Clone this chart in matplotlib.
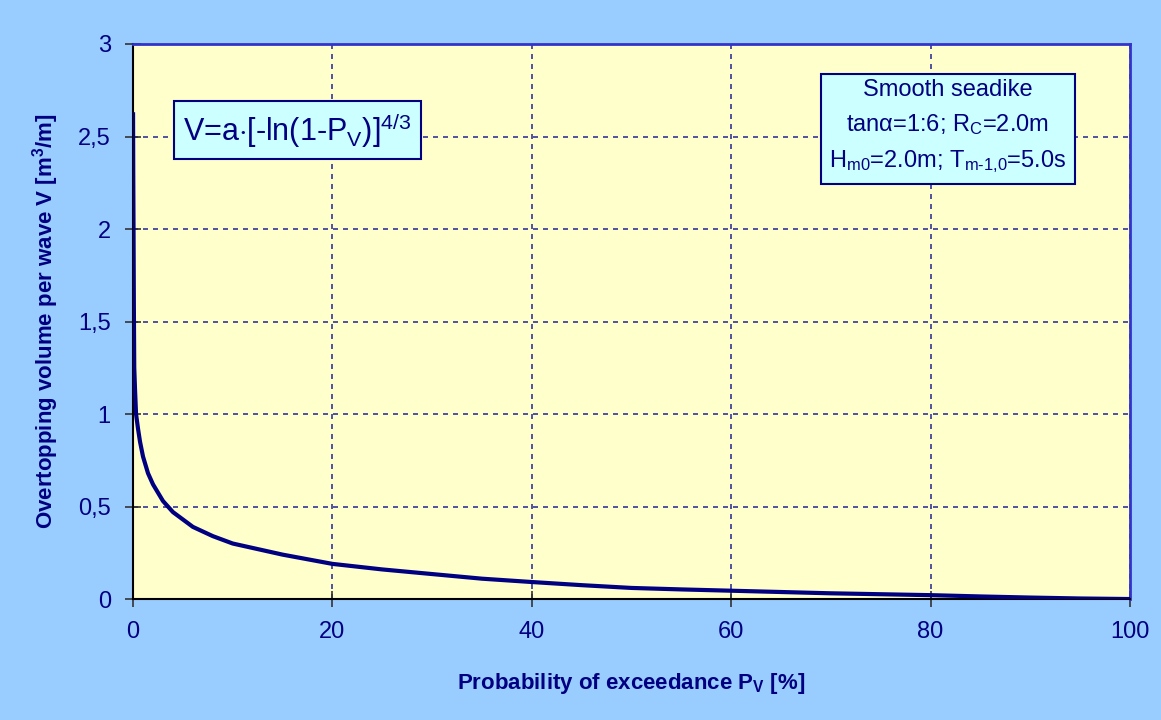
import matplotlib
matplotlib.use("Agg")
import matplotlib.pyplot as plt

plt.rcParams["font.family"] = ["Liberation Sans", "DejaVu Sans"]
plt.rcParams["mathtext.fontset"] = "custom"
plt.rcParams["mathtext.rm"] = "Liberation Sans"
plt.rcParams["mathtext.it"] = "Liberation Sans:italic"
plt.rcParams["mathtext.bf"] = "Liberation Sans:bold"

NAVY = "#000080"

# exceedance probability [%] and overtopping volume [m3/m]
p_exceed = [0.0, 0.02, 0.05, 0.08, 0.12, 0.2, 0.3, 0.5, 0.7, 1.0, 1.5, 2.0, 3.0, 4.0,
            5.0, 6.0, 8.0, 10.0, 12.5, 15.0, 17.5, 20.0, 25.0, 30.0, 35.0, 40.0, 45.0,
            50.0, 55.0, 60.0, 65.0, 70.0, 75.0, 80.0, 85.0, 90.0, 95.0, 100.0]
volume = [2.62, 2.30, 1.97, 1.60, 1.25, 1.13, 1.00, 0.92, 0.85, 0.77, 0.68, 0.62, 0.53, 0.47,
          0.43, 0.39, 0.34, 0.30, 0.27, 0.24, 0.215, 0.19, 0.16, 0.135, 0.11, 0.092, 0.075,
          0.06, 0.052, 0.045, 0.038, 0.031, 0.026, 0.021, 0.014, 0.008, 0.003, 0.0]

x_ticks = [0, 20, 40, 60, 80, 100]
y_ticks = [0, 0.5, 1, 1.5, 2, 2.5, 3]
y_tick_labels = ["0", "0,5", "1", "1,5", "2", "2,5", "3"]

fig = plt.figure(figsize=(11.61, 7.2), dpi=100, facecolor="#99CCFF")
ax = fig.add_axes([0.1146, 0.168, 0.8587, 0.7709])
ax.set_facecolor("#FFFFCC")

ax.plot(p_exceed, volume, color=NAVY, lw=3, solid_joinstyle="round", zorder=3)

ax.set_xlim(0, 100)
ax.set_ylim(0, 3)
ax.set_xticks(x_ticks)
ax.set_yticks(y_ticks)
ax.set_yticklabels(y_tick_labels)
ax.tick_params(axis="both", direction="inout", length=12, width=1.2, color="#333333",
               labelsize=17, labelcolor=NAVY, pad=10)
ax.grid(True, color="#333399", ls=(0, (3, 3)), lw=1.2)
ax.set_axisbelow(True)

for side in ["left", "bottom"]:
    ax.spines[side].set_color("black")
    ax.spines[side].set_linewidth(1.5)
for side in ["top", "right"]:
    ax.spines[side].set_color("#3333CC")
    ax.spines[side].set_linewidth(2)

ax.set_xlabel(r"Probability of exceedance P$_\mathbf{V}$ [%]", fontsize=16,
              fontweight="bold", color=NAVY, labelpad=20)
ax.set_ylabel(r"Overtopping volume per wave V [m$^\mathbf{3}$/m]", fontsize=16,
              fontweight="bold", color=NAVY, labelpad=12)

box = dict(boxstyle="square,pad=0.3", facecolor="#CCFFFF", edgecolor="#000080", lw=1.5)
ax.text(0.0505, 0.845, r"V=a$\cdot$[-ln(1-P$_\mathrm{V}$)]$^\mathrm{4/3}$", transform=ax.transAxes,
        fontsize=22, color=NAVY, va="center", ha="left", bbox=box)
ax.text(0.817, 0.850,
        "Smooth seadike\n" + r"tan$\mathrm{\alpha}$=1:6; R$_\mathrm{C}$=2.0m" + "\n" +
        r"H$_\mathrm{m0}$=2.0m; T$_\mathrm{m\text{-}1{,}0}$=5.0s",
        transform=ax.transAxes, fontsize=17, color=NAVY, va="center", ha="center",
        linespacing=1.6, bbox=dict(boxstyle="square,pad=0.35", facecolor="#CCFFFF",
                                   edgecolor="#000080", lw=1.5))

fig.savefig("out.png", dpi=100, facecolor=fig.get_facecolor())
